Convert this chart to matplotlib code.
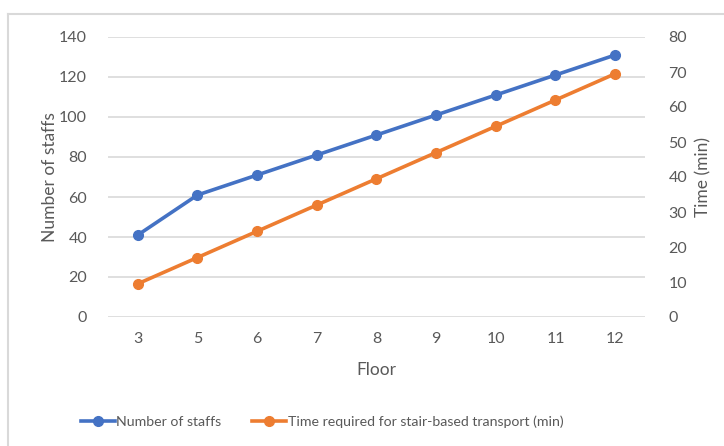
import matplotlib.pyplot as plt
from matplotlib.lines import Line2D

floors = ['3', '5', '6', '7', '8', '9', '10', '11', '12']
staffs = [41, 61, 71, 81, 91, 101, 111, 121, 131]
stair_time = [9.5, 17, 24.5, 32, 39.5, 47, 54.5, 62, 69.5]

blue = '#4472C4'
orange = '#ED7D31'
text_gray = '#595959'
grid_gray = '#D9D9D9'

plt.rcParams['font.family'] = ['Lato', 'DejaVu Sans']

fig = plt.figure(figsize=(7.24, 4.46), dpi=100)
ax = fig.add_axes([108 / 724, 1 - 317 / 446, (645 - 108) / 724, (317 - 37) / 446])
ax2 = ax.twinx()

x = range(len(floors))
l1, = ax.plot(x, staffs, color=blue, lw=2.6, marker='o', ms=7, label='Number of staffs')
l2, = ax2.plot(x, stair_time, color=orange, lw=2.6, marker='o', ms=7,
               label='Time required for stair-based transport (min)')

ax.set_xlim(-0.5, len(floors) - 0.5)
ax.set_ylim(0, 140)
ax.set_yticks(range(0, 141, 20))
ax2.set_ylim(0, 80)
ax2.set_yticks(range(0, 81, 10))
ax.set_xticks(list(x))
ax.set_xticklabels(floors)

ax.grid(axis='y', color=grid_gray, lw=1.2)
ax.set_axisbelow(True)
for a in (ax, ax2):
    for s in a.spines.values():
        s.set_visible(False)
    a.tick_params(length=0, labelsize=11.5, colors=text_gray)
ax.tick_params(axis='y', pad=15)
ax2.tick_params(axis='y', pad=17)
ax.tick_params(axis='x', pad=11)

ax.set_ylabel('Number of staffs', fontsize=12.5, color=text_gray, labelpad=1)
ax2.set_ylabel('Time (min)', fontsize=12.5, color=text_gray, labelpad=6)
ax.set_xlabel('Floor', fontsize=12.5, color=text_gray, labelpad=11)

fig.legend(handles=[l1, l2], loc='center', bbox_to_anchor=(322 / 724, 1 - 422 / 446),
           ncol=2, frameon=False, fontsize=10.2, labelcolor=text_gray,
           handlelength=2.4, handletextpad=0.1, columnspacing=2.2)

# chart border (Excel style)
fig.add_artist(Line2D([8 / 724, 8 / 724], [0, 1 - 14 / 446], color=grid_gray, lw=1.5))
fig.add_artist(Line2D([8 / 724, 1], [1 - 14 / 446, 1 - 14 / 446], color=grid_gray, lw=1.5))

fig.savefig('out.png', dpi=100)
